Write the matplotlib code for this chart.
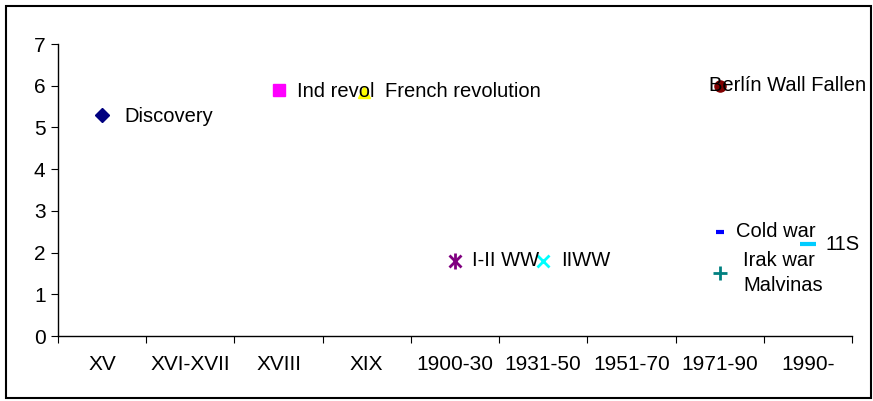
import matplotlib.pyplot as plt
from matplotlib.patches import Rectangle

plt.rcParams['font.family'] = ['Liberation Sans', 'DejaVu Sans']

categories = ['XV', 'XVI-XVII', 'XVIII', 'XIX', '1900-30', '1931-50',
              '1951-70', '1971-90', '1990-']

# events: label, category index (1-based), value
labels = ['Discovery', 'Ind revol', 'French revolution', 'I-II WW', 'IIWW',
          'Berlín Wall Fallen', 'Irak war\nMalvinas', 'Cold war', '11S']
xs = [1, 3, 4, 5, 6, 8, 8, 8, 9]
ys = [5.3, 5.9, 5.85, 1.8, 1.8, 6.0, 1.5, 2.5, 2.2]

# styles
colors = ['#000080', '#FF00FF', '#FFFF00', '#800080', '#00FFFF',
          '#800000', '#008080', '#0000FF', '#00CCFF']
markers = ['D', 's', '^', 'x', 'x', 'o', '+', '_', '_']
msizes = [7, 8, 8, 9, 8, 8, 10, 6, 12]
mews = [1, 1, 1, 2, 2, 1, 2, 3, 3]
offsets = [(16, -1), (13, -1), (13, 0), (12, 0), (13, 0),
           (-8, 0), (17, 0), (12, 0), (13, 0)]

fig = plt.figure(figsize=(8.73, 4.01), dpi=100)
ax = fig.add_axes([58 / 873, 1 - 336 / 401, 794 / 873, 292 / 401])

for i in range(len(labels)):
    ax.plot(xs[i] - (0.03 if markers[i] == '^' else 0), ys[i],
            linestyle='none', marker=markers[i],
            color=colors[i], markersize=msizes[i], markeredgewidth=mews[i],
            zorder=3, clip_on=False)
    if labels[i] == 'I-II WW':
        ax.plot(xs[i], ys[i], linestyle='none', marker='|', color=colors[i],
                markersize=msizes[i] + 2, markeredgewidth=mews[i], zorder=3)
    ax.annotate(labels[i], (xs[i], ys[i]), xytext=offsets[i],
                textcoords='offset points', ha='left', va='center',
                fontsize=14.5, zorder=5, linespacing=1.4)

ax.set_xlim(0.5, 9.5)
ax.set_ylim(0, 7)
ax.set_yticks(range(0, 8))
ax.set_xticks([i + 0.5 for i in range(10)])
ax.set_xticklabels([])
ax.set_xticks(range(1, 10), minor=True)
ax.set_xticklabels(categories, minor=True)
ax.tick_params(axis='x', which='minor', length=0, pad=14, labelsize=15)
ax.tick_params(axis='x', which='major', length=5, direction='out')
ax.tick_params(axis='y', length=5, direction='out', labelsize=15, pad=4)

for s in ['top', 'right']:
    ax.spines[s].set_visible(False)
for s in ['left', 'bottom']:
    ax.spines[s].set_linewidth(1)

fig.patches.append(Rectangle((6 / 873, 3 / 401), 865 / 873, 392 / 401,
                             transform=fig.transFigure, fill=False,
                             edgecolor='black', linewidth=1.5))

fig.savefig('out.png', dpi=100)
